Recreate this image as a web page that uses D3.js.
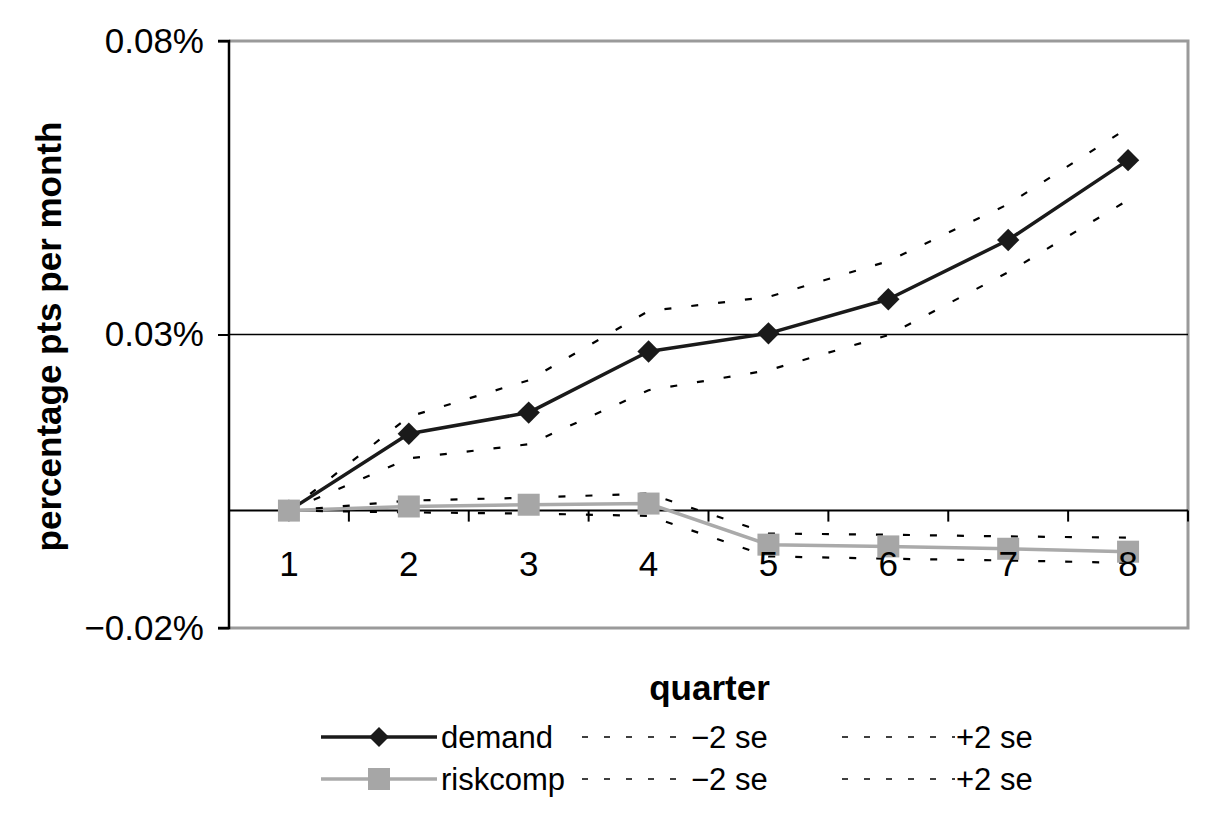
<!DOCTYPE html>
<html><head><meta charset="utf-8">
<script src="https://cdn.jsdelivr.net/npm/d3@7"></script>
<style>
html,body{margin:0;padding:0;background:#fff;}
svg{display:block;}
text{font-family:"Liberation Sans",Arial,Helvetica,sans-serif;}
</style></head>
<body>
<svg id="chart" width="1222" height="830"></svg>
<script>
// ---- data (values in percentage points per month, %) ----
const quarters = ["1","2","3","4","5","6","7","8"];
const demand      = [0, 0.0131, 0.0167, 0.0271, 0.0302, 0.0360, 0.0461, 0.0597];
const demandLo    = [0, 0.0089, 0.0113, 0.0205, 0.0239, 0.0299, 0.0406, 0.0529];
const demandHi    = [0, 0.0160, 0.0222, 0.0340, 0.0364, 0.0425, 0.0522, 0.0652];
const riskcomp    = [0, 0.0007, 0.0010, 0.0012, -0.0058, -0.0061, -0.0065, -0.0070];
const riskcompLo  = [0, -0.0003, -0.0005, -0.0009, -0.0078, -0.0082, -0.0085, -0.0089];
const riskcompHi  = [0, 0.0017, 0.0022, 0.0029, -0.0039, -0.0041, -0.0044, -0.0046];
const yTicks = [-0.02, 0.03, 0.08];
const yTickLabels = ["\u22120.02%", "0.03%", "0.08%"];
const xTitle = "quarter";
const yTitle = "percentage pts per month";

// ---- layout ----
const L = 229, R = 1188, T = 41, B = 628;
const svg = d3.select("#chart");
const x = d3.scalePoint().domain(quarters).range([L, R]).padding(0.5);
const xb = d3.scaleBand().domain(quarters).range([L, R]);
const y = d3.scaleLinear().domain([-0.02, 0.08]).range([B, T]);

// plot border (gray)
svg.append("path")
  .attr("d", `M${L},${T}H${R}V${B}H${L}`)
  .attr("fill", "none").attr("stroke", "#9a9a9a").attr("stroke-width", 3);

// gridline at 0.03
svg.append("line").attr("x1", L).attr("x2", R)
  .attr("y1", y(0.03)).attr("y2", y(0.03))
  .attr("stroke", "#000").attr("stroke-width", 1.6);

// y axis
const yAxis = d3.axisLeft(y).tickValues(yTicks)
  .tickFormat((d, i) => yTickLabels[i]).tickSize(11).tickPadding(14);
const gy = svg.append("g").attr("transform", `translate(${L},0)`).call(yAxis);
gy.select(".domain").attr("stroke", "#000").attr("stroke-width", 2.5)
  .attr("d", `M-11,${T}H0V${B}H-11`);
gy.selectAll(".tick line").attr("stroke", "#000").attr("stroke-width", 2);
gy.selectAll(".tick text").attr("font-size", 35).attr("fill", "#000")
  .style("font-family", "'Liberation Sans', Arial, sans-serif");

// x axis at y=0, ticks at category boundaries
const y0 = y(0);
const gx = svg.append("g").attr("transform", `translate(0,${y0})`);
gx.append("line").attr("x1", L).attr("x2", R).attr("y1", 0).attr("y2", 0)
  .attr("stroke", "#000").attr("stroke-width", 2);
const boundaries = quarters.slice(1).map(q => xb(q)).concat([R]);
gx.selectAll("line.tk").data(boundaries).join("line").attr("class", "tk")
  .attr("x1", d => d).attr("x2", d => d).attr("y1", 0).attr("y2", 11)
  .attr("stroke", "#000").attr("stroke-width", 2);

// series
const line = d3.line().x((d, i) => x(quarters[i])).y(d => y(d));
function drawDashed(vals) {
  svg.append("path").datum(vals).attr("d", line)
    .attr("fill", "none").attr("stroke", "#000").attr("stroke-width", 2.2)
    .attr("stroke-dasharray", "7,20");
}
function drawSolid(vals, color, w) {
  svg.append("path").datum(vals).attr("d", line)
    .attr("fill", "none").attr("stroke", color).attr("stroke-width", w)
    .attr("stroke-linejoin", "round");
}
const dgrey = "#1a1a1a", lgrey = "#a6a6a6";

drawSolid(demand, dgrey, 3.5);
drawDashed(demandLo);
drawDashed(demandHi);
svg.append("g").selectAll("path").data(demand).join("path")
  .attr("d", d3.symbol().type(d3.symbolSquare).size(250))
  .attr("transform", (d, i) => `translate(${x(quarters[i])},${y(d)}) rotate(45)`)
  .attr("fill", dgrey);

drawSolid(riskcomp, "#aaaaaa", 3.5);
drawDashed(riskcompLo);
drawDashed(riskcompHi);
svg.append("g").selectAll("rect").data(riskcomp).join("rect")
  .attr("x", (d, i) => x(quarters[i]) - 11).attr("y", d => y(d) - 11)
  .attr("width", 22).attr("height", 22).attr("fill", lgrey);

// x tick labels
svg.append("g").selectAll("text").data(quarters).join("text")
  .attr("x", d => x(d)).attr("y", 576)
  .attr("text-anchor", "middle").attr("font-size", 35).attr("fill", "#000")
  .text(d => d);

// axis titles
svg.append("text").attr("x", (L + R) / 2 + 1).attr("y", 700)
  .attr("text-anchor", "middle").attr("font-size", 35).attr("font-weight", "bold")
  .text(xTitle);
svg.append("text").attr("transform", `translate(61,${(T + B) / 2 + 2}) rotate(-90)`)
  .attr("text-anchor", "middle").attr("font-size", 35).attr("font-weight", "bold")
  .text(yTitle);

// legend
const legendRows = [
  {name: "demand", color: dgrey, marker: "diamond", y: 737},
  {name: "riskcomp", color: "#aaaaaa", marker: "square", y: 779}
];
const lg = svg.append("g");
legendRows.forEach(r => {
  lg.append("line").attr("x1", 321).attr("x2", 437).attr("y1", r.y).attr("y2", r.y)
    .attr("stroke", r.color).attr("stroke-width", 3.5);
  if (r.marker === "diamond") {
    lg.append("path").attr("d", d3.symbol().type(d3.symbolSquare).size(200))
      .attr("transform", `translate(379,${r.y}) rotate(45)`).attr("fill", dgrey);
  } else {
    lg.append("rect").attr("x", 368).attr("y", r.y - 11).attr("width", 22).attr("height", 22)
      .attr("fill", lgrey);
  }
  lg.append("text").attr("x", 441).attr("y", r.y + 11).attr("font-size", 31).text(r.name);
  [[582, 690, "\u22122 se"], [842, 955, "+2 se"]].forEach(([a, b, t]) => {
    lg.append("line").attr("x1", a).attr("x2", b).attr("y1", r.y).attr("y2", r.y)
      .attr("stroke", "#000").attr("stroke-width", 1.6).attr("stroke-dasharray", "6,16");
    lg.append("text").attr("x", b + 1).attr("y", r.y + 11).attr("font-size", 31).text(t);
  });
});
</script>
</body></html>
